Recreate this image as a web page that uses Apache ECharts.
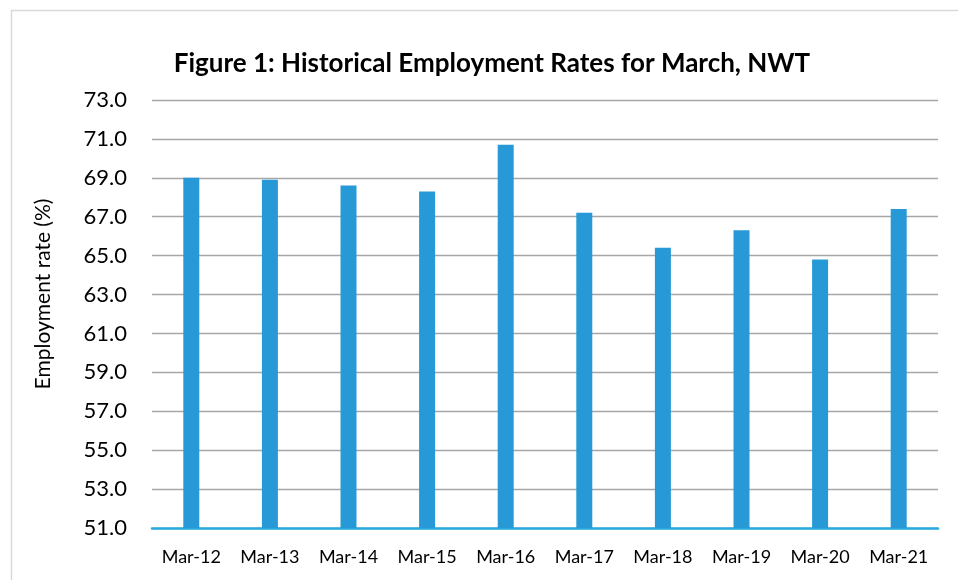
<!DOCTYPE html>
<html>
<head>
<meta charset="utf-8">
<script src="https://cdn.jsdelivr.net/npm/echarts@6/dist/echarts.min.js"></script>
<style>html,body{margin:0;padding:0;background:#fff}#c{width:958px;height:580px}</style>
</head>
<body>
<div id="c"></div>
<script>
const categories = ['Mar-12','Mar-13','Mar-14','Mar-15','Mar-16','Mar-17','Mar-18','Mar-19','Mar-20','Mar-21'];
const employmentRate = [69.0, 68.9, 68.6, 68.3, 70.7, 67.2, 65.4, 66.3, 64.8, 67.4];
const titleText = 'Figure 1: Historical Employment Rates for March, NWT';
const yAxisName = 'Employment rate (%)';

const chart = echarts.init(document.getElementById('c'), null, {renderer:'canvas'});
chart.setOption({
  animation:false,
  backgroundColor:'#ffffff',
  textStyle:{fontFamily:'Lato'},
  graphic:[{type:'rect',left:9,top:8,shape:{x:0,y:0,width:1000,height:1000},style:{fill:'none',stroke:'#d9d9d9',lineWidth:1.5},silent:true}],
  title:{text:titleText,top:46,left:487,textAlign:'center',textStyle:{fontFamily:'Lato',fontWeight:'bold',fontSize:26,color:'#000'}},
  grid:{left:152,right:20,top:100,bottom:52},
  xAxis:{type:'category',data:categories,
    axisLine:{show:true,lineStyle:{color:'#29a9e1',width:2.5}},
    axisTick:{show:false},
    axisLabel:{fontFamily:'Lato',fontSize:18,color:'#000',margin:20}},
  yAxis:{type:'value',min:51,max:73,interval:2,
    name:yAxisName,nameLocation:'middle',nameGap:98,nameRotate:90,
    nameTextStyle:{fontFamily:'Lato',fontSize:21,color:'#000',padding:[0,0,0,40]},
    axisLine:{show:false},axisTick:{show:false},
    axisLabel:{fontFamily:'Lato',fontSize:22,color:'#000',margin:25,formatter:v=>v.toFixed(1)},
    splitLine:{lineStyle:{color:'#a6a6a6',width:1.3}}},
  series:[{type:'bar',data:employmentRate,barWidth:16,itemStyle:{color:'#2699d6'}}]
});
</script>
</body>
</html>
